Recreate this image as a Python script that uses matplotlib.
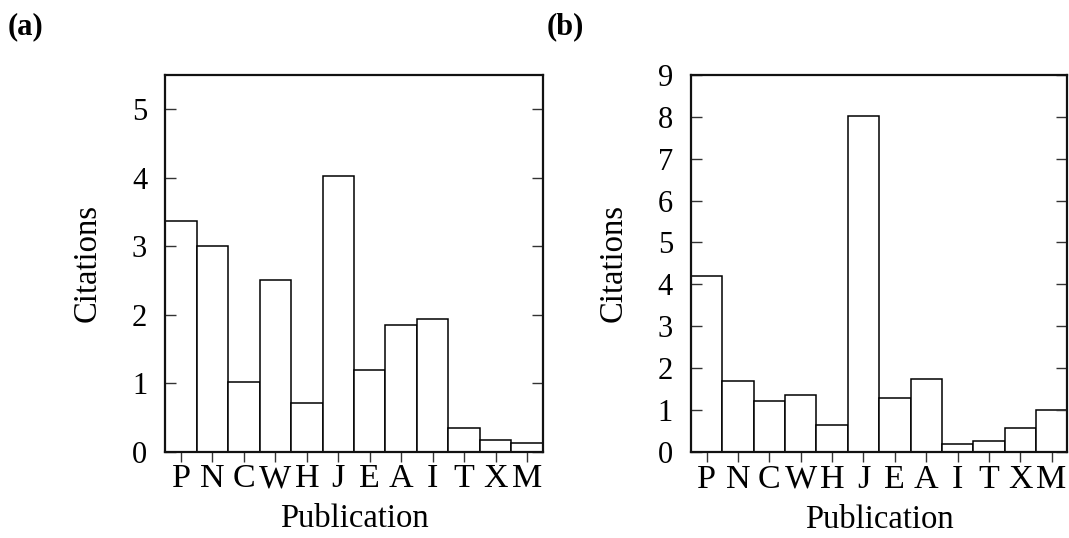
import matplotlib
matplotlib.use("Agg")
import matplotlib.pyplot as plt
import numpy as np

categories = ["P", "N", "C", "W", "H", "J", "E", "A", "I", "T", "X", "M"]
values_a = [3.36, 3.0, 1.01, 2.5, 0.715, 4.02, 1.19, 1.85, 1.94, 0.35, 0.165, 0.13]
values_b = [4.21, 1.69, 1.23, 1.36, 0.65, 8.02, 1.29, 1.75, 0.2, 0.27, 0.57, 1.0]
yticks_a = [0, 1, 2, 3, 4, 5]
yticks_b = [0, 1, 2, 3, 4, 5, 6, 7, 8, 9]

plt.rcParams['font.family'] = ['Liberation Serif', 'DejaVu Serif']

W, H = 1069, 538
fig = plt.figure(figsize=(W / 100, H / 100), dpi=100)

def px_axes(l, r, t, b):
    return fig.add_axes([l / W, (H - b) / H, (r - l) / W, (b - t) / H])

ax_a = px_axes(165.3, 542.7, 74.7, 451.7)
ax_b = px_axes(691.0, 1067.3, 74.7, 452.2)

def style(ax, vals, yticks, ymax):
    x = np.arange(len(categories))
    ax.bar(x, vals, width=1.0, color="white", edgecolor="black", linewidth=1.1)
    ax.set_xlim(-0.5, len(categories) - 0.5)
    ax.set_ylim(0, ymax)
    ax.set_xticks(x)
    ax.set_xticklabels(categories)
    ax.set_yticks(yticks)
    ax.tick_params(axis='y', direction='in', left=True, right=True, length=8,
                   width=1.0, labelsize=22, pad=13, color='#333333')
    ax.tick_params(axis='x', direction='out', bottom=True, top=False, length=7,
                   width=1.0, labelsize=24.5, pad=1.5, color='#333333')
    for s in ax.spines.values():
        s.set_linewidth(1.6)
        s.set_color('#111111')
    ax.set_ylabel("Citations", fontsize=23.5, labelpad=21)
    ax.set_xlabel("Publication", fontsize=23.5, labelpad=7)

style(ax_a, values_a, yticks_a, 5.5)
style(ax_b, values_b, yticks_b, 9.0)

fig.text(8 / W, 1 - 27 / H, "(a)", fontsize=22, fontweight='bold', va='center', ha='left')
fig.text(547 / W, 1 - 27 / H, "(b)", fontsize=22, fontweight='bold', va='center', ha='left')

fig.savefig("out.png", dpi=100)
